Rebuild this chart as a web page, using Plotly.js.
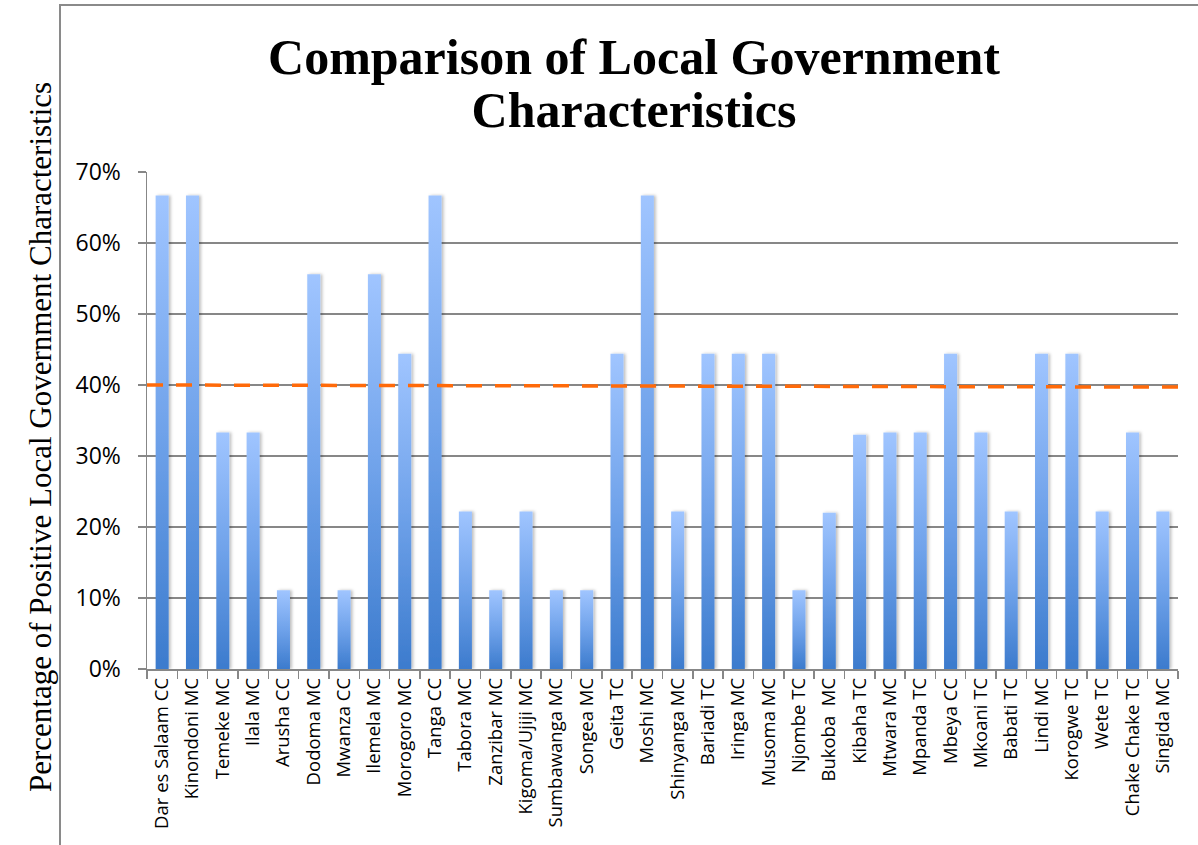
<!DOCTYPE html>
<html>
<head>
<meta charset="utf-8">
<script src="https://cdn.plot.ly/plotly-3.0.1.min.js"></script>
<style>
  html, body { margin: 0; padding: 0; background: #fff; }
  #chart { width: 1198px; height: 845px; }
</style>
</head>
<body>
<div id="chart"></div>
<script>
const councils = [
  "Dar es Salaam CC", "Kinondoni MC", "Temeke MC", "Ilala MC", "Arusha CC",
  "Dodoma MC", "Mwanza CC", "Ilemela MC", "Morogoro MC", "Tanga CC",
  "Tabora MC", "Zanzibar MC", "Kigoma/Ujiji MC", "Sumbawanga MC", "Songea MC",
  "Geita TC", "Moshi MC", "Shinyanga MC", "Bariadi TC", "Iringa MC",
  "Musoma MC", "Njombe TC", "Bukoba  MC", "Kibaha TC", "Mtwara MC",
  "Mpanda TC", "Mbeya CC", "Mkoani TC", "Babati TC", "Lindi MC",
  "Korogwe TC", "Wete TC", "Chake Chake TC", "Singida MC"
];
const positiveShare = [
  0.667, 0.667, 0.333, 0.333, 0.111,
  0.556, 0.111, 0.556, 0.444, 0.667,
  0.222, 0.111, 0.222, 0.111, 0.111,
  0.444, 0.667, 0.222, 0.444, 0.444,
  0.444, 0.111, 0.220, 0.330, 0.333,
  0.333, 0.444, 0.333, 0.222, 0.444,
  0.444, 0.222, 0.333, 0.222
];
const averageLineX = [0, 1.0087];
const averageLineY = [0.400, 0.397];
const yTickVals = [0, 0.1, 0.2, 0.3, 0.4, 0.5, 0.6, 0.7];
const yTickText = ["0%", "10%", "20%", "30%", "40%", "50%", "60%", "70%"];

const W = 1198, H = 845;
const L = 147, R = 20, T = 172, B = 176;
const pw = W - L - R, ph = H - T - B;
const px = v => (v - L) / pw;
const py = v => (H - B - v) / ph;

const traces = [
  {
    type: 'bar',
    x: councils,
    y: positiveShare,
    marker: { color: '#6C9FE6', line: { width: 0 } },
    hoverinfo: 'x+y'
  },
  {
    type: 'scatter',
    mode: 'lines',
    x: averageLineX,
    y: averageLineY,
    xaxis: 'x2',
    yaxis: 'y',
    line: { color: '#FF6A0A', width: 3.5, dash: '16px,13px' },
    cliponaxis: false,
    hoverinfo: 'skip'
  }
];

const layout = {
  width: W, height: H,
  margin: { l: L, r: R, t: T, b: B },
  paper_bgcolor: '#ffffff',
  plot_bgcolor: '#ffffff',
  showlegend: false,
  bargap: 0.57,
  title: {
    text: '<b>Comparison of Local Government<br>Characteristics</b>',
    font: { family: 'Liberation Serif, serif', size: 50, color: '#000' },
    x: px(634), xref: 'paper', xanchor: 'center',
    y: 1 - 74 / H, yref: 'container', yanchor: 'middle'
  },
  xaxis: {
    type: 'category',
    tickangle: -90,
    tickson: 'boundaries',
    ticks: 'outside', ticklen: 8, tickcolor: '#878787', tickwidth: 1.5,
    showline: true, linecolor: '#878787', linewidth: 1.5,
    showgrid: false,
    tickfont: { family: 'Open Sans, sans-serif', size: 18.5, color: '#000' },
    automargin: false
  },
  xaxis2: {
    overlaying: 'x', range: [0, 1], visible: false, fixedrange: true
  },
  yaxis: {
    range: [0, 0.7],
    tickvals: yTickVals, ticktext: yTickText,
    ticks: 'outside', ticklen: 8, tickcolor: '#878787', tickwidth: 1.5,
    ticklabelstandoff: 12,
    showline: true, linecolor: '#878787', linewidth: 1.5,
    showgrid: true, gridcolor: '#878787', gridwidth: 1.5,
    zeroline: false,
    tickfont: { family: 'Open Sans, sans-serif', size: 23, color: '#000' },
    automargin: false
  },
  annotations: [
    {
      text: 'Percentage of Positive Local Government Characteristics',
      textangle: -90,
      xref: 'paper', yref: 'paper',
      x: px(40), y: py(437),
      xanchor: 'center', yanchor: 'middle',
      showarrow: false,
      font: { family: 'Liberation Serif, serif', size: 31, color: '#000' }
    }
  ],
  shapes: [
    {
      type: 'path', xref: 'paper', yref: 'paper',
      path: `M ${px(60)} ${py(850)} L ${px(60)} ${py(5)} L ${px(1205)} ${py(5)}`,
      line: { color: '#8a8a8a', width: 2 }
    }
  ]
};

Plotly.newPlot('chart', traces, layout, { displayModeBar: false, staticPlot: true }).then(gd => {
  const svg = gd.querySelector('svg.main-svg');
  const ns = 'http://www.w3.org/2000/svg';
  let defs = svg.querySelector('defs');
  if (!defs) { defs = document.createElementNS(ns, 'defs'); svg.insertBefore(defs, svg.firstChild); }
  const grad = document.createElementNS(ns, 'linearGradient');
  grad.setAttribute('id', 'barGrad');
  grad.setAttribute('x1', '0'); grad.setAttribute('y1', '0');
  grad.setAttribute('x2', '0'); grad.setAttribute('y2', '1');
  [['0', '#A0C5FF'], ['0.5', '#6FA2EA'], ['1', '#3C7BCD']].forEach(([o, c]) => {
    const s = document.createElementNS(ns, 'stop');
    s.setAttribute('offset', o); s.setAttribute('stop-color', c);
    grad.appendChild(s);
  });
  defs.appendChild(grad);
  const filt = document.createElementNS(ns, 'filter');
  filt.setAttribute('id', 'barShadow');
  filt.setAttribute('x', '-50%'); filt.setAttribute('y', '-10%');
  filt.setAttribute('width', '200%'); filt.setAttribute('height', '120%');
  const ds = document.createElementNS(ns, 'feDropShadow');
  ds.setAttribute('dx', '2'); ds.setAttribute('dy', '0');
  ds.setAttribute('stdDeviation', '1.5');
  ds.setAttribute('flood-color', '#000'); ds.setAttribute('flood-opacity', '0.25');
  filt.appendChild(ds);
  defs.appendChild(filt);
  gd.querySelectorAll('.barlayer .point path').forEach(p => {
    p.style.fill = 'url(#barGrad)';
    p.setAttribute('filter', 'url(#barShadow)');
  });
  // set title line spacing to match the reference
  const lines = gd.querySelectorAll('.gtitle tspan.line');
  if (lines.length > 1) lines[1].setAttribute('dy', '1.06em');
});
</script>
</body>
</html>
